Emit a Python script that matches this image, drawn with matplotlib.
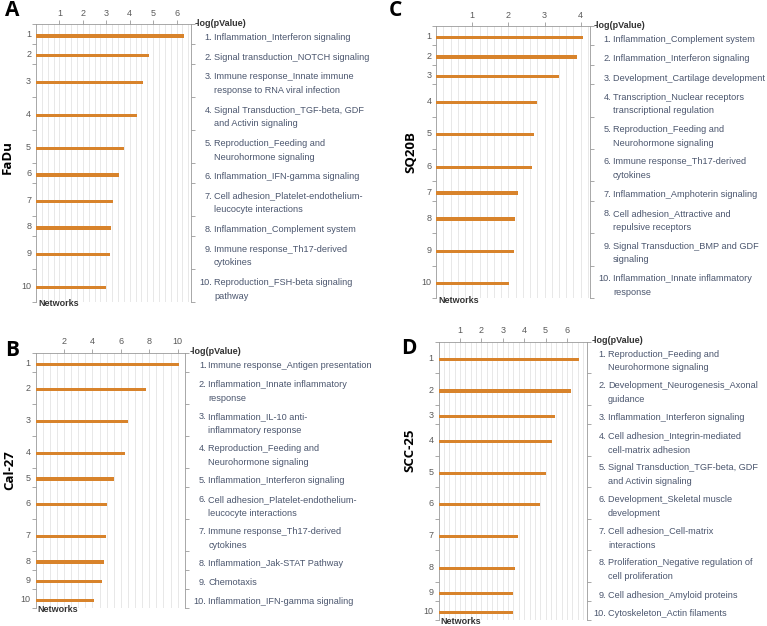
import numpy as np
import matplotlib
matplotlib.use("Agg")
import matplotlib.pyplot as plt
from matplotlib import transforms

plt.rcParams['font.family'] = ['Liberation Sans', 'DejaVu Sans']

W, H = 767, 626
ORANGE = '#d8832b'
TEXT = '#4b566e'
AXGREY = '#9a9a9a'
NUMGREY = '#5a5a5a'

# -----------------------------
# DATA
# -----------------------------
fadu_values = [6.31, 4.82, 4.55, 4.32, 3.75, 3.55, 3.29, 3.20, 3.16, 2.99]
fadu_labels = [
    "Inflammation_Interferon signaling",
    "Signal transduction_NOTCH signaling",
    "Immune response_Innate immune\nresponse to RNA viral infection",
    "Signal Transduction_TGF-beta, GDF\nand Activin signaling",
    "Reproduction_Feeding and\nNeurohormone signaling",
    "Inflammation_IFN-gamma signaling",
    "Cell adhesion_Platelet-endothelium-\nleucocyte interactions",
    "Inflammation_Complement system",
    "Immune response_Th17-derived\ncytokines",
    "Reproduction_FSH-beta signaling\npathway",
]

cal27_values = [10.1, 7.75, 6.48, 6.30, 5.54, 5.05, 4.96, 4.82, 4.68, 4.11]
cal27_labels = [
    "Immune response_Antigen presentation",
    "Inflammation_Innate inflammatory\nresponse",
    "Inflammation_IL-10 anti-\ninflammatory response",
    "Reproduction_Feeding and\nNeurohormone signaling",
    "Inflammation_Interferon signaling",
    "Cell adhesion_Platelet-endothelium-\nleucocyte interactions",
    "Immune response_Th17-derived\ncytokines",
    "Inflammation_Jak-STAT Pathway",
    "Chemotaxis",
    "Inflammation_IFN-gamma signaling",
]

sq20b_values = [4.07, 3.89, 3.41, 2.79, 2.71, 2.66, 2.27, 2.17, 2.15, 2.02]
sq20b_labels = [
    "Inflammation_Complement system",
    "Inflammation_Interferon signaling",
    "Development_Cartilage development",
    "Transcription_Nuclear receptors\ntranscriptional regulation",
    "Reproduction_Feeding and\nNeurohormone signaling",
    "Immune response_Th17-derived\ncytokines",
    "Inflammation_Amphoterin signaling",
    "Cell adhesion_Attractive and\nrepulsive receptors",
    "Signal Transduction_BMP and GDF\nsignaling",
    "Inflammation_Innate inflammatory\nresponse",
]

scc25_values = [6.58, 6.17, 5.44, 5.31, 5.00, 4.72, 3.70, 3.55, 3.48, 3.46]
scc25_labels = [
    "Reproduction_Feeding and\nNeurohormone signaling",
    "Development_Neurogenesis_Axonal\nguidance",
    "Inflammation_Interferon signaling",
    "Cell adhesion_Integrin-mediated\ncell-matrix adhesion",
    "Signal Transduction_TGF-beta, GDF\nand Activin signaling",
    "Development_Skeletal muscle\ndevelopment",
    "Cell adhesion_Cell-matrix\ninteractions",
    "Proliferation_Negative regulation of\ncell proliferation",
    "Cell adhesion_Amyloid proteins",
    "Cytoskeleton_Actin filaments",
]

fig = plt.figure(figsize=(W / 100, H / 100), dpi=100)


def panel(letter, cell, values, labels, xmax, ticks, grid_step,
          box, text_x, letter_xy, cell_xy):
    # box = (left, right, top, bottom) in pixels from top-left
    left, right, top, bottom = box
    ax = fig.add_axes([left / W, 1 - bottom / H, (right - left) / W, (bottom - top) / H])

    # rows with two-line labels get more room
    nlines = np.array([lab.count("\n") + 1 for lab in labels])
    heights = np.where(nlines > 1, 1.0, 0.6)
    edges = np.concatenate([[0], np.cumsum(heights)])
    centers = (edges[:-1] + edges[1:]) / 2

    ax.barh(centers + 0.06, values, height=0.1, color=ORANGE, zorder=3)
    ax.set_xlim(0, xmax)
    ax.set_ylim(edges[-1], 0)

    # top axis
    ax.xaxis.tick_top()
    ax.set_xticks(ticks)
    ax.set_xticklabels([str(t) for t in ticks])
    ax.set_xticks(np.arange(grid_step, xmax, grid_step), minor=True)
    ax.tick_params(axis='x', which='major', length=3, width=0.6, color=AXGREY,
                   labelsize=6.5, labelcolor=NUMGREY, pad=1.5)
    ax.tick_params(axis='x', which='minor', length=0)
    ax.grid(which='both', axis='x', color='#e4e4e4', lw=0.6, zorder=0)

    # row numbers + row separators
    ax.set_yticks(centers)
    ax.set_yticklabels([str(i + 1) for i in range(len(values))])
    ax.set_yticks(edges, minor=True)
    ax.tick_params(axis='y', which='major', length=0, labelsize=6.5,
                   labelcolor=NUMGREY, pad=3.5)
    ax.tick_params(axis='y', which='minor', length=3, width=0.6, color=AXGREY,
                   left=True, right=True)

    for s in ['top', 'left', 'right']:
        ax.spines[s].set_color(AXGREY)
        ax.spines[s].set_linewidth(0.6)
    ax.spines['bottom'].set_visible(False)

    ax.annotate("-log(pValue)", xy=(1, 1), xycoords='axes fraction',
                xytext=(4, 1), textcoords='offset pixels', ha='left', va='center',
                fontsize=6.5, fontweight='bold', color='#333333')
    ax.annotate("Networks", xy=(0, 0), xycoords='axes fraction',
                xytext=(2, -2), textcoords='offset pixels', ha='left', va='center',
                fontsize=6.5, fontweight='bold', color='#333333')

    # pathway names on the right; the number sits on the first line
    trans = transforms.blended_transform_factory(ax.transAxes, ax.transData)
    for i, lab in enumerate(labels):
        num = f"{i + 1}." + "\n " * (nlines[i] - 1)
        ax.annotate(num, xy=(1, centers[i] + 0.11), xycoords=trans,
                    xytext=(text_x - right - 2, 0), textcoords='offset pixels',
                    ha='right', va='center', fontsize=6.6, color=TEXT,
                    linespacing=1.7, multialignment='right')
        ax.annotate(lab, xy=(1, centers[i] + 0.11), xycoords=trans,
                    xytext=(text_x - right, 0), textcoords='offset pixels',
                    ha='left', va='center', fontsize=6.6, color=TEXT,
                    linespacing=1.7)

    fig.text(letter_xy[0] / W, 1 - letter_xy[1] / H, letter, fontsize=15,
             fontweight='bold', ha='left', va='center', family='Open Sans')
    fig.text(cell_xy[0] / W, 1 - cell_xy[1] / H, cell, fontsize=9.5,
             fontweight='bold', rotation=90, ha='center', va='center',
             family='Open Sans')
    return ax


panel("A", "FaDu", fadu_values, fadu_labels, 6.6, [1, 2, 3, 4, 5, 6], 0.25,
      (36, 190.7, 24, 302), 214, (5, 11), (7, 157))
panel("B", "Cal-27", cal27_values, cal27_labels, 10.54, [2, 4, 6, 8, 10], 0.5,
      (35.6, 185.3, 352.7, 608), 208.5, (5, 350), (10, 470))
panel("C", "SQ20B", sq20b_values, sq20b_labels, 4.25, [1, 2, 3, 4], 0.2,
      (436.2, 589.7, 26, 298), 613, (389, 11), (411, 152))
panel("D", "SCC-25", scc25_values, scc25_labels, 6.95, [1, 2, 3, 4, 5, 6], 0.25,
      (438.6, 587.3, 341.7, 620), 608, (401, 348), (410, 450))

fig.savefig("out.png", dpi=100, facecolor='white')
